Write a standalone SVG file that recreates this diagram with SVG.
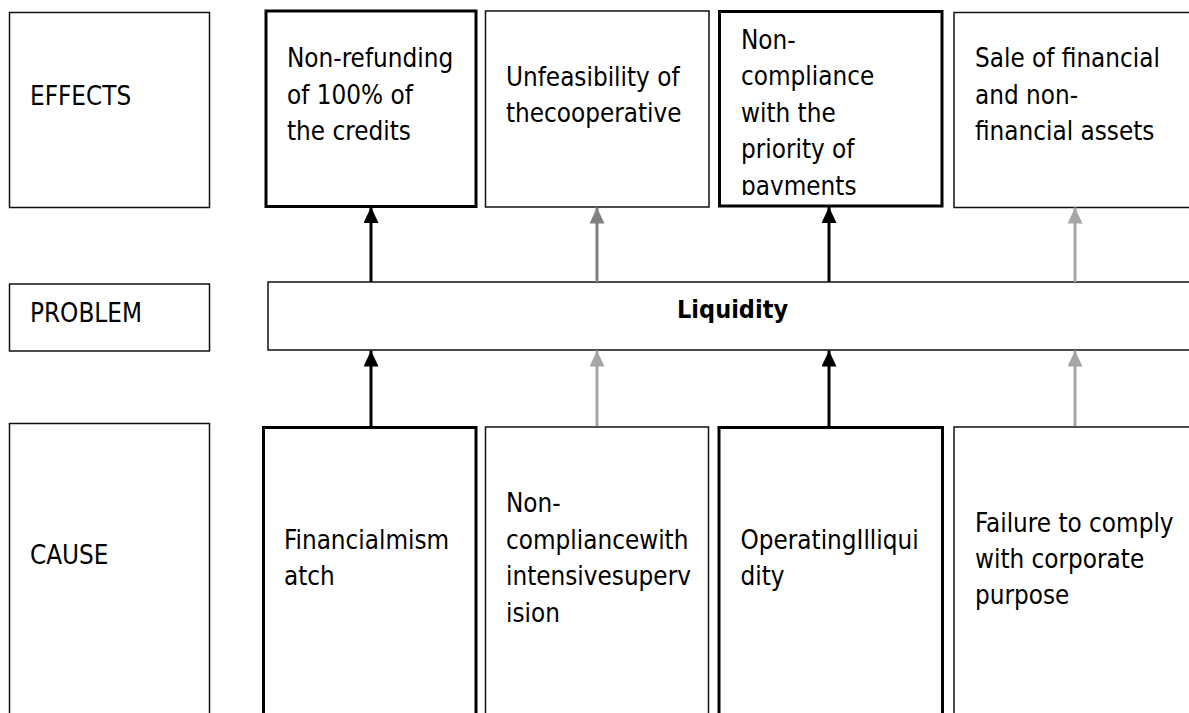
<svg xmlns="http://www.w3.org/2000/svg" width="1189" height="713" viewBox="0 0 1189 713">
<style>
.t{font-family:"DejaVu Sans Condensed","DejaVu Sans",sans-serif;font-stretch:condensed;font-size:25.8px;fill:#000}
.b{font-weight:bold;font-size:25px}
.thin{fill:#fff;stroke:#111;stroke-width:1.5}
.thick{fill:#fff;stroke:#000;stroke-width:3}
.blk{stroke:#000;stroke-width:3;fill:none}
.g1{stroke:#808080;stroke-width:3;fill:none}
.g2{stroke:#a6a6a6;stroke-width:3;fill:none}
</style>
<defs>
<marker id="ab" markerUnits="userSpaceOnUse" markerWidth="16" markerHeight="15" refX="16" refY="7.5" orient="auto" viewBox="0 0 16 15"><path d="M0,0 L16,7.5 L0,15 Z" fill="#000"/></marker>
<marker id="ag1" markerUnits="userSpaceOnUse" markerWidth="16" markerHeight="15" refX="16" refY="7.5" orient="auto" viewBox="0 0 16 15"><path d="M0,0 L16,7.5 L0,15 Z" fill="#808080"/></marker>
<marker id="ag2" markerUnits="userSpaceOnUse" markerWidth="16" markerHeight="15" refX="16" refY="7.5" orient="auto" viewBox="0 0 16 15"><path d="M0,0 L16,7.5 L0,15 Z" fill="#a6a6a6"/></marker>
<clipPath id="c3"><rect x="719" y="11" width="223" height="184"/></clipPath>
</defs>
<rect width="1189" height="713" fill="#fff"/>

<g id="effects-label"><rect class="thin" x="9.5" y="12.5" width="200" height="195"/><text class="t" x="30" y="105">EFFECTS</text></g>
<g id="effect1"><rect class="thick" x="266" y="11" width="210" height="195.5"/><text class="t" x="287" y="67">Non-refunding</text><text class="t" x="287" y="103.5">of 100% of</text><text class="t" x="287" y="140">the credits</text></g>
<g id="effect2"><rect class="thin" x="485.5" y="11" width="223.5" height="196"/><text class="t" x="506" y="86">Unfeasibility of</text><text class="t" x="506" y="122">thecooperative</text></g>
<g id="effect3"><rect class="thick" x="719.5" y="11.5" width="222.5" height="194.5"/><g clip-path="url(#c3)"><text class="t" x="741" y="48.5">Non-</text><text class="t" x="741" y="85">compliance</text><text class="t" x="741" y="121.5">with the</text><text class="t" x="741" y="158">priority of</text><text class="t" x="741" y="194.5">payments</text></g></g>
<g id="effect4"><rect class="thin" x="954" y="12.5" width="260" height="195"/><text class="t" x="975" y="67">Sale of financial</text><text class="t" x="975" y="103.5">and non-</text><text class="t" x="975" y="140">financial assets</text></g>

<g id="problem-label"><rect class="thin" x="9.5" y="284" width="200" height="67"/><text class="t" x="30" y="322">PROBLEM</text></g>
<g id="liquidity"><rect class="thin" x="268" y="282" width="950" height="68"/><text class="t b" x="677" y="318">Liquidity</text></g>

<g id="cause-label"><rect class="thin" x="9.5" y="423.5" width="200" height="300"/><text class="t" x="30" y="564">CAUSE</text></g>
<g id="cause1"><rect class="thick" x="263.5" y="427.5" width="212.5" height="300"/><text class="t" x="284" y="548.5">Financialmism</text><text class="t" x="284" y="585">atch</text></g>
<g id="cause2"><rect class="thin" x="485.5" y="427" width="223" height="300"/><text class="t" x="506" y="511.5">Non-</text><text class="t" x="506" y="548.5">compliancewith</text><text class="t" x="506" y="585">intensivesuperv</text><text class="t" x="506" y="621.5">ision</text></g>
<g id="cause3"><rect class="thick" x="719" y="427.5" width="223.5" height="300"/><text class="t" x="740.5" y="548.5">OperatingIlliqui</text><text class="t" x="740.5" y="585">dity</text></g>
<g id="cause4"><rect class="thin" x="954" y="427" width="260" height="300"/><text class="t" x="975" y="531.5">Failure to comply</text><text class="t" x="975" y="568">with corporate</text><text class="t" x="975" y="604">purpose</text></g>

<g id="connectors">
<line class="blk" x1="371" y1="282" x2="371" y2="207" marker-end="url(#ab)"/>
<line class="g1" x1="597" y1="282" x2="597" y2="207.5" marker-end="url(#ag1)"/>
<line class="blk" x1="829" y1="282" x2="829" y2="207" marker-end="url(#ab)"/>
<line class="g2" x1="1075" y1="282" x2="1075" y2="207.5" marker-end="url(#ag2)"/>
<line class="blk" x1="371" y1="426" x2="371" y2="350.5" marker-end="url(#ab)"/>
<line class="g2" x1="597" y1="426" x2="597" y2="350.5" marker-end="url(#ag2)"/>
<line class="blk" x1="829" y1="426" x2="829" y2="350.5" marker-end="url(#ab)"/>
<line class="g2" x1="1075" y1="426" x2="1075" y2="350.5" marker-end="url(#ag2)"/>
</g>
</svg>
